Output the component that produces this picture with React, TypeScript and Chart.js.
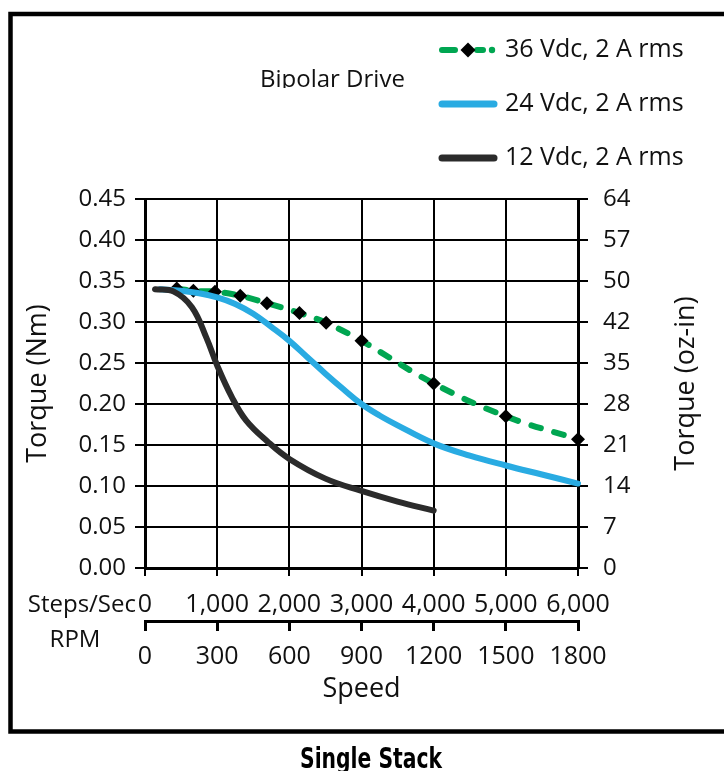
import React, { useEffect, useRef } from 'react';
import { Chart, registerables } from 'chart.js';

Chart.register(...registerables);

// ---------- data ----------
const seriesLabels = ['36 Vdc, 2 A rms', '24 Vdc, 2 A rms', '12 Vdc, 2 A rms'];
const seriesColors = ['#00a651', '#29abe2', '#2b2b2b'];

const speed36 = [440, 670, 970, 1320, 1690, 2140, 2510, 3000, 4000, 5000, 6000];
const torque36 = [0.341, 0.338, 0.337, 0.332, 0.323, 0.311, 0.299, 0.277, 0.225, 0.185, 0.157];

const speed24 = [208, 500, 750, 1000, 1250, 1500, 1750, 2000, 2250, 2500, 2750, 3000, 3250, 3500, 4000, 4500, 5000, 5500, 6000];
const torque24 = [0.340, 0.338, 0.335, 0.330, 0.322, 0.310, 0.294, 0.277, 0.257, 0.237, 0.218, 0.200, 0.186, 0.174, 0.152, 0.137, 0.125, 0.114, 0.103];

const speed12 = [139, 400, 650, 850, 1000, 1200, 1400, 1700, 2000, 2500, 3000, 3500, 4000];
const torque12 = [0.340, 0.337, 0.318, 0.281, 0.247, 0.209, 0.180, 0.154, 0.133, 0.109, 0.094, 0.081, 0.070];

const ozInLabels = ['0', '7', '14', '21', '28', '35', '42', '50', '57', '64'];

const FONT = "'Open Sans', 'DejaVu Sans', sans-serif";
const TEXT = '#111111';

const toPoints = (xs: number[], ys: number[]) => xs.map((x, i) => ({ x, y: ys[i] }));

const decor = {
  id: 'decor',
  afterDraw(chart: any) {
    const ctx = chart.ctx as CanvasRenderingContext2D;
    const area = chart.chartArea;
    ctx.save();

    // outer frame
    ctx.strokeStyle = '#000';
    ctx.lineWidth = 4.5;
    ctx.strokeRect(10.5, 14, 800, 717.5);

    ctx.fillStyle = TEXT;

    // "Bipolar Drive" (clipped at bottom like the reference)
    ctx.save();
    ctx.beginPath();
    ctx.rect(0, 0, 724, 88);
    ctx.clip();
    ctx.font = `24px ${FONT}`;
    ctx.textAlign = 'left';
    ctx.textBaseline = 'alphabetic';
    ctx.fillText('Bipolar Drive', 260, 87);
    ctx.restore();

    // legend
    const legY = [50, 104, 158];
    ctx.lineCap = 'round';
    for (let i = 0; i < 3; i++) {
      const y = legY[i];
      ctx.strokeStyle = seriesColors[i];
      ctx.fillStyle = seriesColors[i];
      if (i === 0) {
        ctx.lineWidth = 6;
        ctx.beginPath();
        ctx.moveTo(442, y); ctx.lineTo(455, y);
        ctx.moveTo(477, y); ctx.lineTo(483, y);
        ctx.stroke();
        ctx.beginPath();
        ctx.arc(492, y, 3.2, 0, Math.PI * 2);
        ctx.fill();
        ctx.fillStyle = '#000';
        ctx.beginPath();
        ctx.moveTo(468, y - 7.5); ctx.lineTo(475.5, y); ctx.lineTo(468, y + 7.5); ctx.lineTo(460.5, y);
        ctx.closePath();
        ctx.fill();
      } else {
        ctx.lineWidth = 7;
        ctx.beginPath();
        ctx.moveTo(442, y); ctx.lineTo(494, y);
        ctx.stroke();
      }
      ctx.fillStyle = TEXT;
      ctx.font = `25px ${FONT}`;
      ctx.textAlign = 'left';
      ctx.textBaseline = 'middle';
      ctx.fillText(seriesLabels[i], 505, y);
    }

    // bottom axis side labels
    ctx.fillStyle = TEXT;
    ctx.font = `24px ${FONT}`;
    ctx.textAlign = 'right';
    ctx.textBaseline = 'middle';
    ctx.fillText('Steps/Sec', 136, 605);
    ctx.textAlign = 'center';
    ctx.fillText('RPM', 75, 640);
    ctx.font = `27px ${FONT}`;
    ctx.fillText('Speed', (area.left + area.right) / 2, 689);

    // rotated axis titles
    const midY = (area.top + area.bottom) / 2;
    ctx.save();
    ctx.translate(38, midY);
    ctx.rotate(-Math.PI / 2);
    ctx.fillText('Torque (Nm)', 0, 0);
    ctx.restore();
    ctx.save();
    ctx.translate(686, midY);
    ctx.rotate(-Math.PI / 2);
    ctx.fillText('Torque (oz-in)', 0, 0);
    ctx.restore();

    // caption
    ctx.font = `bold 28px 'Liberation Sans Narrow', 'DejaVu Sans Condensed', 'Liberation Sans', sans-serif`;
    const w = ctx.measureText('Single Stack').width;
    ctx.save();
    ctx.translate(371, 768);
    ctx.scale(142 / w, 1);
    ctx.textAlign = 'center';
    ctx.textBaseline = 'alphabetic';
    ctx.fillStyle = '#000';
    ctx.fillText('Single Stack', 0, 0);
    ctx.restore();

    ctx.restore();
  },
};

export default function App() {
  const ref = useRef<HTMLCanvasElement | null>(null);

  useEffect(() => {
    if (!ref.current) return;
    const tickFont = { family: FONT, size: 24 };
    const xTickFont = { family: FONT, size: 25 };
    const chart = new Chart(ref.current, {
      type: 'line',
      data: {
        datasets: [
          {
            label: seriesLabels[2],
            data: toPoints(speed12, torque12),
            borderColor: seriesColors[2],
            borderWidth: 6,
            borderCapStyle: 'round',
            pointRadius: 0,
            tension: 0.4,
            xAxisID: 'x',
            yAxisID: 'y',
            order: 0,
            clip: false,
          },
          {
            label: seriesLabels[1],
            data: toPoints(speed24, torque24),
            borderColor: seriesColors[1],
            borderWidth: 6,
            borderCapStyle: 'round',
            pointRadius: 0,
            tension: 0.4,
            xAxisID: 'x',
            yAxisID: 'y',
            order: 1,
            clip: false,
          },
          {
            label: seriesLabels[0],
            data: toPoints(speed36, torque36),
            borderColor: seriesColors[0],
            borderWidth: 6,
            borderDash: [10, 14],
            borderCapStyle: 'round',
            pointStyle: 'rectRot',
            pointRadius: 7,
            pointBackgroundColor: '#000',
            pointBorderColor: '#000',
            pointBorderWidth: 0,
            tension: 0.4,
            xAxisID: 'x',
            yAxisID: 'y',
            order: 2,
            clip: false,
          },
        ] as any,
      },
      options: {
        responsive: false,
        animation: false,
        events: [],
        layout: { padding: { top: 199, left: 0, right: 0, bottom: 0 } },
        plugins: {
          legend: { display: false },
          tooltip: { enabled: false },
          title: { display: false },
        },
        scales: {
          x: {
            type: 'linear',
            position: 'bottom',
            min: 0,
            max: 6000,
            weight: 0,
            ticks: {
              stepSize: 1000,
              padding: 14,
              color: TEXT,
              font: xTickFont,
              maxRotation: 0,
              autoSkip: false,
              callback: (v: any) => Number(v).toLocaleString('en-US'),
            },
            grid: { color: '#000', lineWidth: 2, tickLength: 8 },
            border: { color: '#000', width: 3 },
            afterFit: (s: any) => { s.height = 53; },
          },
          x2: {
            type: 'linear',
            position: 'bottom',
            min: 0,
            max: 1800,
            weight: 1,
            ticks: {
              stepSize: 300,
              padding: 11,
              color: TEXT,
              font: xTickFont,
              maxRotation: 0,
              autoSkip: false,
              callback: (v: any) => String(v),
            },
            grid: { drawOnChartArea: false, color: '#000', lineWidth: 3, tickLength: 10 },
            border: { color: '#000', width: 3 },
            afterFit: (s: any) => { s.height = 150; },
          },
          y: {
            position: 'left',
            min: 0,
            max: 0.45,
            ticks: {
              stepSize: 0.05,
              padding: 9,
              color: TEXT,
              font: tickFont,
              callback: (v: any) => Number(v).toFixed(2),
            },
            grid: { color: '#000', lineWidth: 2, tickLength: 10 },
            border: { color: '#000', width: 3 },
            afterFit: (s: any) => { s.width = 145; },
          },
          y2: {
            position: 'right',
            min: 0,
            max: 0.45,
            ticks: {
              stepSize: 0.05,
              padding: 15,
              color: TEXT,
              font: tickFont,
              callback: (v: any) => ozInLabels[Math.round(Number(v) / 0.05)] ?? '',
            },
            grid: { drawOnChartArea: false, color: '#000', lineWidth: 2, tickLength: 10 },
            border: { color: '#000', width: 3 },
            afterFit: (s: any) => { s.width = 146; },
          },
        },
      } as any,
      plugins: [decor],
    });
    return () => chart.destroy();
  }, []);

  return (
    <canvas
      ref={ref}
      width={724}
      height={771}
      style={{ position: 'absolute', left: 0, top: 0, width: 724, height: 771 }}
    />
  );
}
